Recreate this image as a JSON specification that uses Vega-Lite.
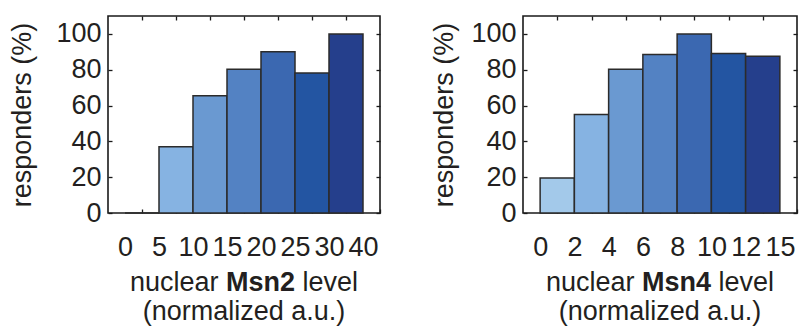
{
  "$schema": "https://vega.github.io/schema/vega-lite/v6.json",
  "background": "white",
  "padding": {"left": 8, "top": 14, "right": 5, "bottom": 0},
  "spacing": 48,
  "config": {
    "view": {"stroke": "#1a1a1a", "strokeWidth": 1.6},
    "font": "Liberation Sans",
    "axis": {
      "labelFont": "Liberation Sans", "labelFontSize": 27, "labelColor": "#231f20",
      "titleFont": "Liberation Sans", "titleFontSize": 27, "titleFontWeight": "normal", "titleColor": "#231f20",
      "domain": false, "grid": false, "tickColor": "#1a1a1a", "tickWidth": 1.3
    },
    "text": {"font": "Liberation Sans", "fontSize": 27, "color": "#231f20"}
  },
  "datasets": {
    "msn2": [
      {"bin": 0, "lo": 0, "hi": 1, "responders": 0},
      {"bin": 1, "lo": 1, "hi": 2, "responders": 37},
      {"bin": 2, "lo": 2, "hi": 3, "responders": 65.5},
      {"bin": 3, "lo": 3, "hi": 4, "responders": 80.3},
      {"bin": 4, "lo": 4, "hi": 5, "responders": 90},
      {"bin": 5, "lo": 5, "hi": 6, "responders": 78.2},
      {"bin": 6, "lo": 6, "hi": 7, "responders": 100}
    ],
    "msn4": [
      {"bin": 0, "lo": 0, "hi": 1, "responders": 19.6},
      {"bin": 1, "lo": 1, "hi": 2, "responders": 55},
      {"bin": 2, "lo": 2, "hi": 3, "responders": 80.3},
      {"bin": 3, "lo": 3, "hi": 4, "responders": 88.5},
      {"bin": 4, "lo": 4, "hi": 5, "responders": 100},
      {"bin": 5, "lo": 5, "hi": 6, "responders": 89},
      {"bin": 6, "lo": 6, "hi": 7, "responders": 87.5}
    ],
    "blank": [{}]
  },
  "hconcat": [
    {
      "width": 272, "height": 197,
      "layer": [
        {
          "data": {"name": "msn2"},
          "mark": {"type": "rect", "stroke": "#2b2b2b", "strokeWidth": 1.5},
          "encoding": {
            "x": {"field": "lo", "type": "quantitative", "scale": {"domain": [-0.5, 7.5], "nice": false, "zero": false},
              "axis": {"orient": "bottom", "values": [0.5, 1.5, 2.5, 3.5, 4.5, 5.5, 6.5, 7.5],
                "labelExpr": "['0','5','10','15','20','25','30','40'][datum.value - 0.5]",
                "labelOffset": -17, "tickSize": -4, "labelPadding": 25, "labelFlush": false, "labelOverlap": false, "labelBound": false, "title": null}},
            "x2": {"field": "hi"},
            "y": {"field": "responders", "type": "quantitative", "scale": {"domain": [0, 110], "nice": false},
              "axis": {"orient": "left", "values": [0, 20, 40, 60, 80, 100], "tickSize": -4, "labelPadding": 11, "title": "responders (%)", "titlePadding": 19}},
            "y2": {"datum": 0},
            "color": {"field": "bin", "type": "ordinal", "scale": {"domain": [0, 1, 2, 3, 4, 5, 6], "range": ["#a3c9ea", "#86b3e2", "#6a99d1", "#5382c3", "#3b68b1", "#2355a2", "#253f8c"]}, "legend": null}
          }
        },
        {
          "data": {"name": "msn2"},
          "mark": {"type": "rule", "opacity": 0},
          "encoding": {
            "x": {"field": "lo", "type": "quantitative", "axis": {"orient": "top", "values": [0.5, 1.5, 2.5, 3.5, 4.5, 5.5, 6.5], "labels": false, "tickSize": -4, "title": null}},
            "y": {"field": "responders", "type": "quantitative", "axis": {"orient": "right", "values": [0, 20, 40, 60, 80, 100], "labels": false, "tickSize": -4, "title": null}}
          }
        },
        {
          "data": {"name": "blank"},
          "mark": {"type": "text", "text": "nuclear", "align": "right", "baseline": "alphabetic", "dx": -25.5},
          "encoding": {"x": {"datum": 3.5, "axis": null}, "y": {"datum": -43.7, "axis": null}}
        },
        {
          "data": {"name": "blank"},
          "mark": {"type": "text", "text": "Msn2", "align": "center", "baseline": "alphabetic", "dx": 16.5, "fontWeight": "bold"},
          "encoding": {"x": {"datum": 3.5, "axis": null}, "y": {"datum": -43.7, "axis": null}}
        },
        {
          "data": {"name": "blank"},
          "mark": {"type": "text", "text": "level", "align": "left", "baseline": "alphabetic", "dx": 58.5},
          "encoding": {"x": {"datum": 3.5, "axis": null}, "y": {"datum": -43.7, "axis": null}}
        },
        {
          "data": {"name": "blank"},
          "mark": {"type": "text", "text": "(normalized a.u.)", "align": "center", "baseline": "alphabetic"},
          "encoding": {"x": {"datum": 3.5, "axis": null}, "y": {"datum": -59.7, "axis": null}}
        }
      ],
      "resolve": {"axis": {"x": "independent", "y": "independent"}}
    },
    {
      "width": 274, "height": 197,
      "layer": [
        {
          "data": {"name": "msn4"},
          "mark": {"type": "rect", "stroke": "#2b2b2b", "strokeWidth": 1.5},
          "encoding": {
            "x": {"field": "lo", "type": "quantitative", "scale": {"domain": [-0.5, 7.5], "nice": false, "zero": false},
              "axis": {"orient": "bottom", "values": [0.5, 1.5, 2.5, 3.5, 4.5, 5.5, 6.5, 7.5],
                "labelExpr": "['0','2','4','6','8','10','12','15'][datum.value - 0.5]",
                "labelOffset": -17, "tickSize": -4, "labelPadding": 25, "labelFlush": false, "labelOverlap": false, "labelBound": false, "title": null}},
            "x2": {"field": "hi"},
            "y": {"field": "responders", "type": "quantitative", "scale": {"domain": [0, 110], "nice": false},
              "axis": {"orient": "left", "values": [0, 20, 40, 60, 80, 100], "tickSize": -4, "labelPadding": 11, "title": "responders (%)", "titlePadding": 12}},
            "y2": {"datum": 0},
            "color": {"field": "bin", "type": "ordinal", "scale": {"domain": [0, 1, 2, 3, 4, 5, 6], "range": ["#a3c9ea", "#86b3e2", "#6a99d1", "#5382c3", "#3b68b1", "#2355a2", "#253f8c"]}, "legend": null}
          }
        },
        {
          "data": {"name": "msn4"},
          "mark": {"type": "rule", "opacity": 0},
          "encoding": {
            "x": {"field": "lo", "type": "quantitative", "axis": {"orient": "top", "values": [0.5, 1.5, 2.5, 3.5, 4.5, 5.5, 6.5], "labels": false, "tickSize": -4, "title": null}},
            "y": {"field": "responders", "type": "quantitative", "axis": {"orient": "right", "values": [0, 20, 40, 60, 80, 100], "labels": false, "tickSize": -4, "title": null}}
          }
        },
        {
          "data": {"name": "blank"},
          "mark": {"type": "text", "text": "nuclear", "align": "right", "baseline": "alphabetic", "dx": -25.5},
          "encoding": {"x": {"datum": 3.5, "axis": null}, "y": {"datum": -43.7, "axis": null}}
        },
        {
          "data": {"name": "blank"},
          "mark": {"type": "text", "text": "Msn4", "align": "center", "baseline": "alphabetic", "dx": 16.5, "fontWeight": "bold"},
          "encoding": {"x": {"datum": 3.5, "axis": null}, "y": {"datum": -43.7, "axis": null}}
        },
        {
          "data": {"name": "blank"},
          "mark": {"type": "text", "text": "level", "align": "left", "baseline": "alphabetic", "dx": 58.5},
          "encoding": {"x": {"datum": 3.5, "axis": null}, "y": {"datum": -43.7, "axis": null}}
        },
        {
          "data": {"name": "blank"},
          "mark": {"type": "text", "text": "(normalized a.u.)", "align": "center", "baseline": "alphabetic"},
          "encoding": {"x": {"datum": 3.5, "axis": null}, "y": {"datum": -59.7, "axis": null}}
        }
      ],
      "resolve": {"axis": {"x": "independent", "y": "independent"}}
    }
  ]
}
